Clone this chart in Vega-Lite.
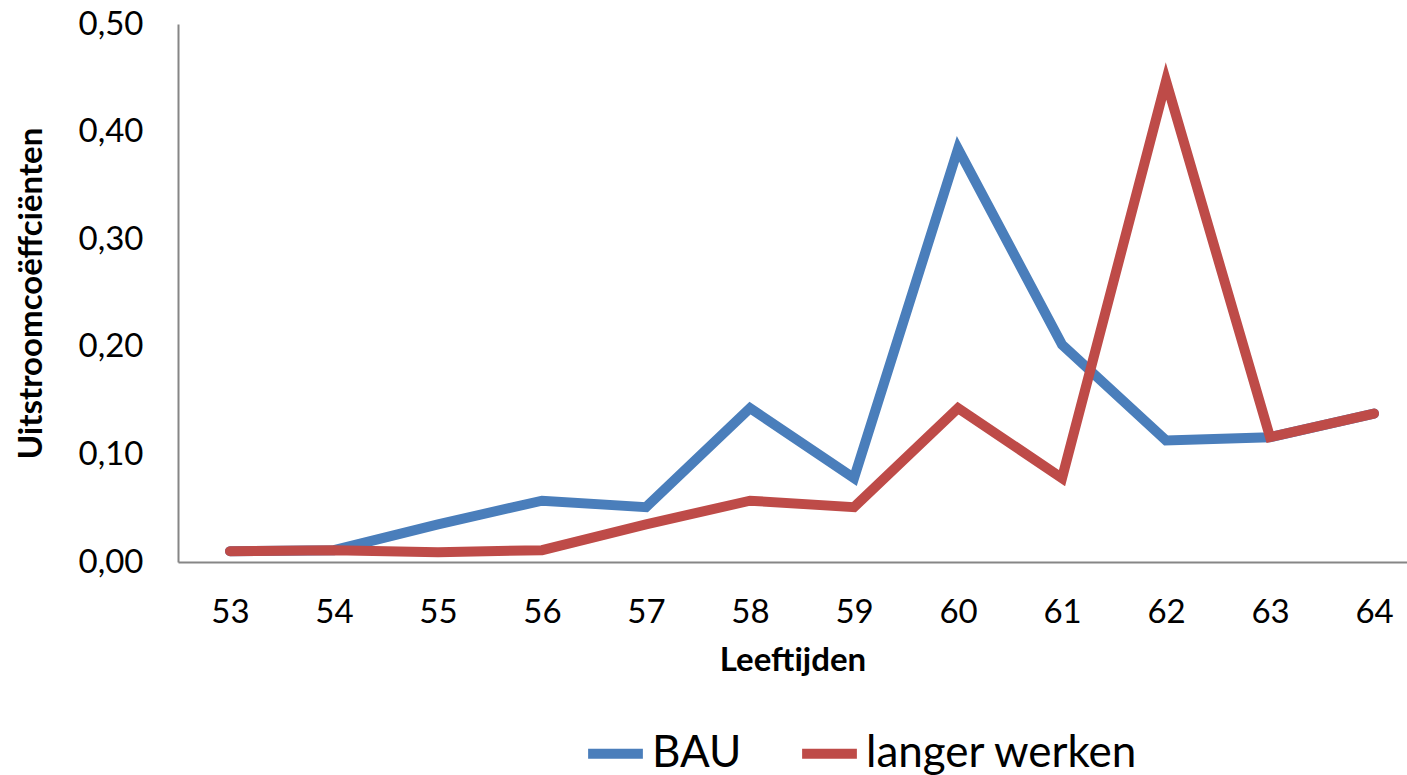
{
  "$schema": "https://vega.github.io/schema/vega-lite/v6.json",
  "width": 1229,
  "height": 538,
  "autosize": {"type": "none"},
  "padding": {"left": 178, "top": 24, "right": 0, "bottom": 213},
  "background": "white",
  "data": {
    "values": [
      {"leeftijd": 53, "reeks": "BAU", "waarde": 0.010},
      {"leeftijd": 54, "reeks": "BAU", "waarde": 0.011},
      {"leeftijd": 55, "reeks": "BAU", "waarde": 0.035},
      {"leeftijd": 56, "reeks": "BAU", "waarde": 0.057},
      {"leeftijd": 57, "reeks": "BAU", "waarde": 0.051},
      {"leeftijd": 58, "reeks": "BAU", "waarde": 0.143},
      {"leeftijd": 59, "reeks": "BAU", "waarde": 0.078},
      {"leeftijd": 60, "reeks": "BAU", "waarde": 0.384},
      {"leeftijd": 61, "reeks": "BAU", "waarde": 0.202},
      {"leeftijd": 62, "reeks": "BAU", "waarde": 0.113},
      {"leeftijd": 63, "reeks": "BAU", "waarde": 0.116},
      {"leeftijd": 64, "reeks": "BAU", "waarde": 0.138},
      {"leeftijd": 53, "reeks": "langer werken", "waarde": 0.010},
      {"leeftijd": 54, "reeks": "langer werken", "waarde": 0.011},
      {"leeftijd": 55, "reeks": "langer werken", "waarde": 0.009},
      {"leeftijd": 56, "reeks": "langer werken", "waarde": 0.011},
      {"leeftijd": 57, "reeks": "langer werken", "waarde": 0.035},
      {"leeftijd": 58, "reeks": "langer werken", "waarde": 0.057},
      {"leeftijd": 59, "reeks": "langer werken", "waarde": 0.051},
      {"leeftijd": 60, "reeks": "langer werken", "waarde": 0.143},
      {"leeftijd": 61, "reeks": "langer werken", "waarde": 0.078},
      {"leeftijd": 62, "reeks": "langer werken", "waarde": 0.447},
      {"leeftijd": 63, "reeks": "langer werken", "waarde": 0.116},
      {"leeftijd": 64, "reeks": "langer werken", "waarde": 0.138}
    ]
  },
  "mark": {"type": "line", "strokeWidth": 10, "strokeCap": "round", "strokeJoin": "miter", "clip": false},
  "encoding": {
    "x": {
      "field": "leeftijd",
      "type": "quantitative",
      "scale": {"domain": [52.5, 64.317], "nice": false, "zero": false},
      "axis": {
        "title": "Leeftijden",
        "values": [53, 54, 55, 56, 57, 58, 59, 60, 61, 62, 63, 64],
        "format": "d",
        "grid": false,
        "ticks": false,
        "tickSize": 0,
        "labelPadding": 34,
        "titlePadding": 15,
        "domainColor": "#868686",
        "domainWidth": 2
      }
    },
    "y": {
      "field": "waarde",
      "type": "quantitative",
      "scale": {"domain": [0, 0.5], "nice": false},
      "axis": {
        "title": "Uitstroomcoëffciënten",
        "values": [0, 0.1, 0.2, 0.3, 0.4, 0.5],
        "format": ".2f",
        "labelExpr": "replace(datum.label, '.', ',')",
        "grid": false,
        "ticks": false,
        "tickSize": 0,
        "labelPadding": 35,
        "titlePadding": 30,
        "domainColor": "#868686",
        "domainWidth": 2
      }
    },
    "color": {
      "field": "reeks",
      "type": "nominal",
      "scale": {"domain": ["BAU", "langer werken"], "range": ["#4a7ebb", "#be4b48"]},
      "legend": {
        "title": null,
        "orient": "none",
        "direction": "horizontal",
        "legendX": 405,
        "legendY": 697,
        "symbolType": "stroke",
        "symbolSize": 3000,
        "symbolStrokeWidth": 10,
        "labelOffset": 4,
        "columnPadding": 40,
        "labelFontSize": 44,
        "labelFont": "Lato",
        "labelColor": "black",
        "labelLimit": 0
      }
    }
  },
  "config": {
    "view": {"stroke": null},
    "axis": {
      "labelFont": "Lato",
      "labelFontSize": 33,
      "labelColor": "black",
      "titleFont": "Lato",
      "titleFontSize": 33,
      "titleFontWeight": "bold",
      "titleColor": "black"
    }
  }
}
